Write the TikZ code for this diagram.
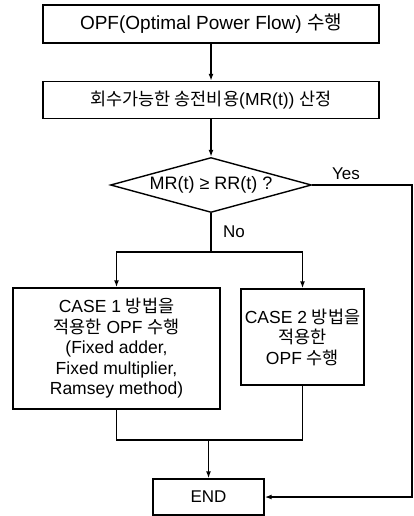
\documentclass[tikz,border=0pt]{standalone}
\usepackage{fontspec}
\setmainfont{Liberation Sans}
\newfontfamily\krfont{Noto Sans CJK KR}
\usetikzlibrary{shapes.geometric,arrows.meta}
\tikzset{
procbox/.style={draw=black,line width=1.4pt,fill=white,inner sep=0pt,align=center},
casebox/.style={draw=black,line width=1.4pt,fill=white,inner sep=0pt,align=center,font=\fontsize{17.5}{20.5}\selectfont},
testbox/.style={diamond,aspect=3.65,draw=black,line width=1.4pt,inner sep=0pt,minimum width=201pt,minimum height=55pt,font=\fontsize{18}{20}\selectfont},
endbox/.style={draw=black,line width=1.4pt,fill=white,inner sep=0pt,font=\fontsize{17}{20}\selectfont},
conn/.style={line width=1.4pt,black},
flowarrow/.style={conn,-{Latex[length=7pt,width=5pt]}},
branchlbl/.style={font=\fontsize{17}{20}\selectfont,inner sep=0pt}
}
\newcommand{\kr}[1]{{\krfont #1}}

\begin{document}
\begin{tikzpicture}[x=1pt,y=-1pt]
\useasboundingbox (0,0) rectangle (414,516);
\node[procbox,minimum width=336pt,minimum height=38pt,font=\fontsize{19}{22}\selectfont] (opf) at (211,24) {OPF(Optimal Power Flow) \kr{수행}};
\node[procbox,minimum width=336pt,minimum height=37pt,font=\fontsize{17.5}{22}\selectfont] (mrcalc) at (211,100) {\kr{회수가능한 송전비용}(MR(t)) \kr{산정}};
\node[testbox] (test) at (211,185) {MR(t) ≥ RR(t) ?};
\node[casebox,minimum width=207pt,minimum height=121pt] (case1) at (116.5,348.5) {CASE 1 \kr{방법을}\\\kr{적용한} OPF \kr{수행}\\(Fixed adder,\\Fixed multiplier,\\Ramsey method)};
\node[casebox,minimum width=123pt,minimum height=96pt] (case2) at (302.5,337) {CASE 2 \kr{방법을}\\\kr{적용한}\\OPF \kr{수행}};
\node[endbox,minimum width=111pt,minimum height=36pt] (finish) at (208.5,497) {END};
\coordinate (split) at (211,252);
\coordinate (join) at (208.5,440);
\coordinate (yesturn) at (412,185);
\draw[flowarrow] (opf) -- (mrcalc);
\draw[flowarrow] (mrcalc) -- (test);
\draw[conn] (test.south) -- (split);
\draw[flowarrow] (split) -| (case1.north);
\draw[flowarrow] (split) -| (case2.north);
\draw[conn] (case1.south) |- (join);
\draw[conn] (case2.south) |- (join);
\draw[flowarrow] (join) -- (finish);
\draw[flowarrow] (test.east) -- (yesturn) |- (finish.east);
\node[branchlbl] (yes) at (346,174) {Yes};
\node[branchlbl] (no) at (234,232) {No};
\end{tikzpicture}
\end{document}
